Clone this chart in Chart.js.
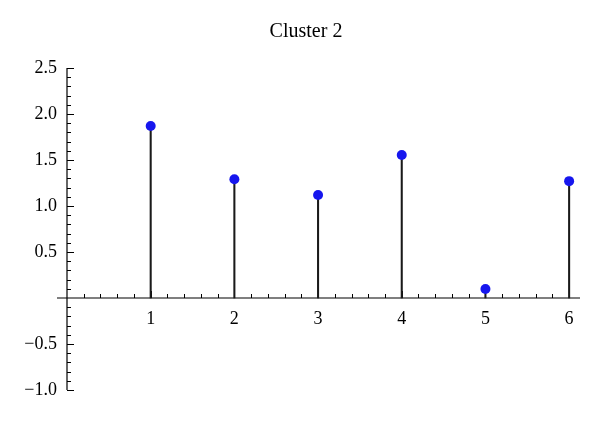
<!DOCTYPE html>
<html>
<head>
<meta charset="utf-8">
<script src="https://cdn.jsdelivr.net/npm/chart.js@4/dist/chart.umd.min.js"></script>
<style>
html,body{margin:0;padding:0;background:#fff;}
#wrap{width:600px;height:424px;}
</style>
</head>
<body>
<div id="wrap"><canvas id="c" width="600" height="424"></canvas></div>
<script>
const categories = [1, 2, 3, 4, 5, 6];
const values = [1.87, 1.29, 1.12, 1.555, 0.098, 1.27];
const yTicks = [-1.0, -0.5, 0.5, 1.0, 1.5, 2.0, 2.5];
const xTicks = [1, 2, 3, 4, 5, 6];

const FONT = "'Liberation Serif', 'DejaVu Serif', serif";

function fmt(v) {
  const s = Math.abs(v).toFixed(1);
  return v < 0 ? '\u2212' + s : s;
}

const points = categories.map((c, i) => ({x: c, y: values[i]}));

const axesPlugin = {
  id: 'crossAxes',
  beforeDatasetsDraw(chart) {
    const ctx = chart.ctx;
    const xs = chart.scales.x, ys = chart.scales.y;
    const x0 = xs.getPixelForValue(0), y0 = ys.getPixelForValue(0);
    ctx.save();
    ctx.strokeStyle = '#000';
    ctx.lineWidth = 1.2;
    ctx.beginPath();
    ctx.moveTo(xs.getPixelForValue(-0.12), y0);
    ctx.lineTo(xs.getPixelForValue(6.13), y0);
    ctx.moveTo(x0, ys.getPixelForValue(-1));
    ctx.lineTo(x0, ys.getPixelForValue(2.5));
    ctx.stroke();
    ctx.lineWidth = 1;
    ctx.beginPath();
    for (let k = -10; k <= 25; k++) {
      if (k === 0) continue;
      const py = Math.round(ys.getPixelForValue(k / 10)) + 0.5;
      const len = (k % 5 === 0) ? 7 : 4;
      ctx.moveTo(x0, py);
      ctx.lineTo(x0 + len, py);
    }
    for (let k = 1; k <= 30; k++) {
      const px = Math.round(xs.getPixelForValue(k / 5)) + 0.5;
      const len = (k % 5 === 0) ? 7 : 4;
      ctx.moveTo(px, y0);
      ctx.lineTo(px, y0 - len);
    }
    ctx.stroke();
    ctx.restore();
  }
};

new Chart(document.getElementById('c'), {
  type: 'scatter',
  data: {
    datasets: [
      {
        type: 'bar',
        data: points,
        backgroundColor: '#1a1a1a',
        borderWidth: 0,
        barThickness: 1.4,
        order: 2
      },
      {
        type: 'scatter',
        data: points,
        backgroundColor: '#1616ee',
        borderColor: '#1616ee',
        pointRadius: 5,
        borderWidth: 0,
        order: 1
      }
    ]
  },
  plugins: [axesPlugin],
  options: {
    responsive: false,
    animation: false,
    devicePixelRatio: 1,
    layout: {padding: {top: 0, left: 32, right: 20, bottom: 34}},
    plugins: {
      legend: {display: false},
      tooltip: {enabled: false},
      title: {
        display: true,
        text: 'Cluster 2',
        color: '#000',
        font: {family: FONT, size: 20, weight: 'normal'},
        padding: {top: 20, bottom: 24}
      }
    },
    scales: {
      x: {
        type: 'linear',
        position: {y: 0},
        offset: false,
        min: 0,
        max: 6.13,
        afterBuildTicks: (s) => { s.ticks = xTicks.map(v => ({value: v})); },
        ticks: {
          color: '#000',
          font: {family: FONT, size: 18},
          padding: 10,
          callback: (v) => String(v),
          maxRotation: 0,
          autoSkip: false
        },
        grid: {display: false, drawTicks: false, offset: false},
        border: {display: false}
      },
      y: {
        type: 'linear',
        position: 'left',
        min: -1,
        max: 2.5,
        afterFit: (s) => { s.width = 35; },
        afterUpdate: (s) => { s._computeLabelArea = () => undefined; },
        afterBuildTicks: (s) => { s.ticks = yTicks.map(v => ({value: v})); },
        ticks: {
          color: '#000',
          font: {family: FONT, size: 18},
          padding: 10,
          callback: (v) => fmt(v),
          autoSkip: false
        },
        grid: {display: false, drawTicks: false},
        border: {display: false}
      }
    }
  }
});
</script>
</body>
</html>
